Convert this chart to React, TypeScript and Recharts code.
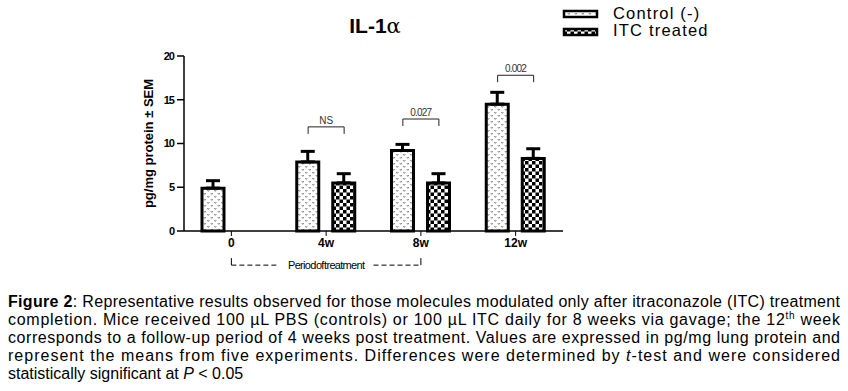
import React from "react";
import {
  BarChart,
  Bar,
  XAxis,
  YAxis,
  ErrorBar,
  ReferenceLine,
  ReferenceDot,
} from "recharts";

const categories = ["0", "4w", "8w", "12w"];
const controlMeans = [4.9, 7.9, 9.2, 14.5];
const controlSem = [0.85, 1.2, 0.7, 1.35];
const itcMeans = [null, 5.5, 5.5, 8.3];
const itcSem = [null, 1.05, 1.05, 1.1];
const yTicks = [0, 5, 10, 15, 20];
const seriesNames = ["Control (-)", "ITC treated"];

// significance brackets: category index, level (pg/mg), text
const brackets = [
  { index: 1, level: 11.9, text: "NS" },
  { index: 2, level: 12.8, text: "0.027" },
  { index: 3, level: 17.8, text: "0.002" },
];

const captionLines = [
  "Representative results observed for those molecules modulated only after itraconazole (ITC) treatment",
  "completion. Mice received 100 µL PBS (controls) or 100 µL ITC daily for 8 weeks via gavage; the 12",
  "corresponds to a follow-up period of 4 weeks post treatment. Values are expressed in pg/mg lung protein and",
  "represent the means from five experiments. Differences were determined by ",
  "statistically significant at ",
];

const data = categories.map((cat, i) => ({
  cat,
  pos: i + 0.5,
  control: controlMeans[i],
  controlErr: [0, controlSem[i]],
  itc: itcMeans[i],
  itcErr: itcSem[i] == null ? [0, 0] : [0, itcSem[i]],
}));

const FONT = "'Liberation Sans', Arial, sans-serif";
const BAR_OFFSET = 0.19; // half pair spacing in category units
const LEG = 0.8;

function PatternDefs({ prefix }: { prefix: string }) {
  return (
    <defs>
      <pattern id={`${prefix}-ctrl`} width="7" height="6" patternUnits="userSpaceOnUse">
        <rect width="7" height="6" fill="#fff" />
        <path d="M0.8 1 L1.8 2.4 L2.8 1" stroke="#666" strokeWidth="0.8" fill="none" />
        <path d="M4.3 4 L5.3 5.4 L6.3 4" stroke="#666" strokeWidth="0.8" fill="none" />
      </pattern>
      <pattern id={`${prefix}-itc`} width="7" height="7" patternUnits="userSpaceOnUse">
        <rect width="7" height="7" fill="#fff" />
        <rect width="3.5" height="3.5" fill="#000" />
        <rect x="3.5" y="3.5" width="3.5" height="3.5" fill="#000" />
      </pattern>
    </defs>
  );
}

export default function App() {
  return (
    <div style={{ position: "absolute", left: 0, top: 0, width: 848, height: 391, background: "#fff", fontFamily: FONT }}>
      <div
        style={{
          position: "absolute",
          left: 325,
          width: 100,
          top: 14,
          textAlign: "center",
          fontSize: 21,
          fontWeight: "bold",
        }}
      >
        IL-1<span style={{ fontWeight: "normal", fontFamily: "'DejaVu Serif', serif" }}>α</span>
      </div>

      <svg style={{ position: "absolute", left: 0, top: 0 }} width={848} height={45}>
        <PatternDefs prefix="leg" />
        {seriesNames.map((name, i) => (
          <g key={name}>
            <rect
              x={564}
              y={11 + i * 18}
              width={33}
              height={6}
              fill={i === 0 ? "url(#leg-ctrl)" : "url(#leg-itc)"}
              stroke="#000"
              strokeWidth={2.5}
            />
            <text x={613} y={19 + i * 17} fontSize={16.5} fontFamily={FONT} fill="#000" letterSpacing={1.2}>
              {name}
            </text>
          </g>
        ))}
      </svg>

      <div style={{ position: "absolute", left: 0, top: 0 }}>
        <BarChart
          width={848}
          height={280}
          data={data}
          margin={{ top: 56, right: 285, bottom: 19, left: 0 }}
          barSize={22}
          barGap={14}
        >
          <PatternDefs prefix="bar" />
          <XAxis
            dataKey="cat"
            height={30}
            tickSize={5}
            tickLine={{ stroke: "#000", strokeWidth: 1 }}
            axisLine={{ stroke: "#000", strokeWidth: 1.5 }}
            tick={{ fill: "#000", fontSize: 12, fontWeight: "bold", fontFamily: FONT }}
          />
          <XAxis xAxisId="pos" type="number" dataKey="pos" domain={[0, 4]} hide />
          <YAxis
            width={184}
            domain={[0, 20]}
            ticks={yTicks}
            interval={0}
            tickSize={7}
            tickMargin={3}
            tickLine={{ stroke: "#000", strokeWidth: 1.5 }}
            axisLine={{ stroke: "#000", strokeWidth: 1.5 }}
            tick={{ fill: "#000", fontSize: 11, fontWeight: "bold", fontFamily: FONT, letterSpacing: -1 }}
            label={{
              value: "pg/mg protein ± SEM",
              angle: -90,
              position: "center",
              dx: 56,
              style: { fontSize: 13, fontWeight: "bold", fill: "#000", fontFamily: FONT },
            }}
          />
          <Bar dataKey="control" fill="url(#bar-ctrl)" stroke="#000" strokeWidth={3} isAnimationActive={false}>
            <ErrorBar dataKey="controlErr" width={7} stroke="#000" strokeWidth={3} />
          </Bar>
          <Bar dataKey="itc" fill="url(#bar-itc)" stroke="#000" strokeWidth={3} isAnimationActive={false}>
            <ErrorBar dataKey="itcErr" width={7} stroke="#000" strokeWidth={3} />
          </Bar>

          {brackets.map((b) => {
            const x1 = b.index + 0.5 - BAR_OFFSET;
            const x2 = b.index + 0.5 + BAR_OFFSET;
            return (
              <React.Fragment key={b.text}>
                <ReferenceLine
                  xAxisId="pos"
                  segment={[{ x: x1, y: b.level - LEG }, { x: x1, y: b.level }]}
                  stroke="#222"
                  strokeWidth={1}
                  ifOverflow="visible"
                />
                <ReferenceLine
                  xAxisId="pos"
                  segment={[{ x: x1, y: b.level }, { x: x2, y: b.level }]}
                  stroke="#222"
                  strokeWidth={1}
                  ifOverflow="visible"
                />
                <ReferenceLine
                  xAxisId="pos"
                  segment={[{ x: x2, y: b.level }, { x: x2, y: b.level - LEG }]}
                  stroke="#222"
                  strokeWidth={1}
                  ifOverflow="visible"
                />
                <ReferenceDot
                  xAxisId="pos"
                  x={b.index + 0.5}
                  y={b.level}
                  r={0}
                  ifOverflow="visible"
                  label={{
                    value: b.text,
                    position: "top",
                    offset: 3,
                    style: { fontSize: 10, fill: "#333", fontFamily: FONT, letterSpacing: b.text === "NS" ? 0 : -0.8 },
                  }}
                />
              </React.Fragment>
            );
          })}

          {/* period of treatment bracket below the axis */}
          <ReferenceLine xAxisId="pos" segment={[{ x: 0.5, y: -3.1 }, { x: 0.5, y: -3.9 }]} stroke="#000" ifOverflow="visible" />
          <ReferenceLine xAxisId="pos" segment={[{ x: 0.5, y: -3.9 }, { x: 1.0, y: -3.9 }]} stroke="#000" strokeDasharray="5 3" ifOverflow="visible" />
          <ReferenceLine xAxisId="pos" segment={[{ x: 2.0, y: -3.9 }, { x: 2.5, y: -3.9 }]} stroke="#000" strokeDasharray="5 3" ifOverflow="visible" />
          <ReferenceLine xAxisId="pos" segment={[{ x: 2.5, y: -3.9 }, { x: 2.5, y: -3.1 }]} stroke="#000" ifOverflow="visible" />
          <ReferenceDot
            xAxisId="pos"
            x={1.5}
            y={-3.9}
            r={0}
            ifOverflow="visible"
            label={{
              value: "Period of treatment",
              position: "center",
              style: { fontSize: 11, fill: "#000", fontFamily: FONT, letterSpacing: -0.7, wordSpacing: -2 },
            }}
          />
        </BarChart>
      </div>

      <svg style={{ position: "absolute", left: 0, top: 280 }} width={848} height={111}>
        <g fontFamily={FONT} fontSize={16} fill="#000">
          <text x={8} y={27} textLength={832} lengthAdjust="spacing">
            <tspan fontWeight="bold">Figure 2</tspan>: {captionLines[0]}
          </text>
          <text x={8} y={45} textLength={832} lengthAdjust="spacing">
            {captionLines[1]}
            <tspan fontSize={10} dy={-6}>th</tspan>
            <tspan dy={6}> week</tspan>
          </text>
          <text x={8} y={63} textLength={832} lengthAdjust="spacing">
            {captionLines[2]}
          </text>
          <text x={8} y={81} textLength={832} lengthAdjust="spacing">
            {captionLines[3]}
            <tspan fontStyle="italic">t</tspan>-test and were considered
          </text>
          <text x={8} y={99}>
            {captionLines[4]}
            <tspan fontStyle="italic">P</tspan> {"< 0.05"}
          </text>
        </g>
      </svg>
    </div>
  );
}
